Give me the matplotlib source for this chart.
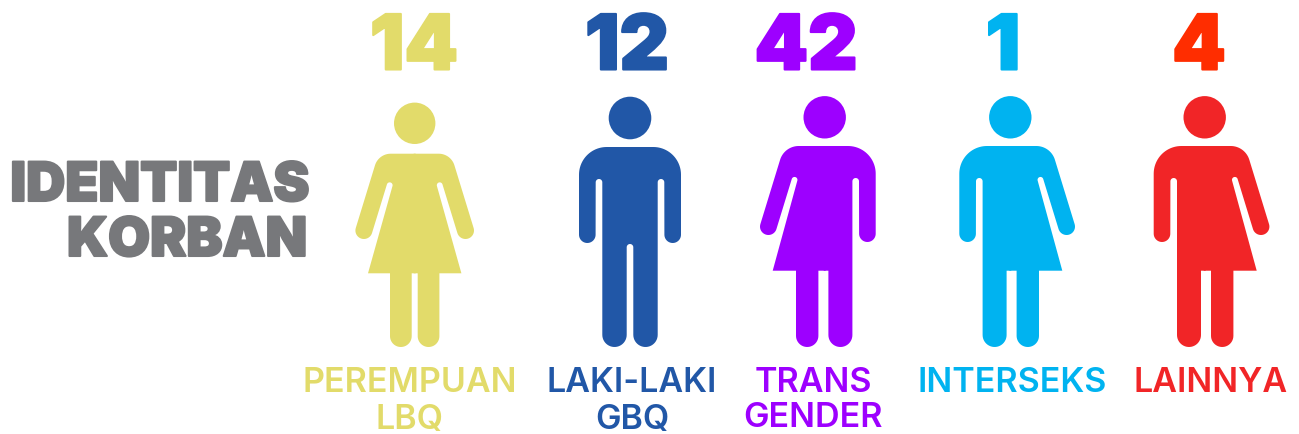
import numpy as np
import matplotlib
matplotlib.use("Agg")
from matplotlib import pyplot as plt
from matplotlib.patches import Polygon, Circle
import matplotlib.patheffects as pe

# data
labels = ["PEREMPUAN\nLBQ", "LAKI-LAKI\nGBQ", "TRANS\nGENDER", "INTERSEKS", "LAINNYA"]
values = [14, 12, 42, 1, 4]
value_colors = ["#E2DB6A", "#2157A7", "#9D00FF", "#00B3F0", "#FF2D00"]
icon_colors = ["#E2DB6A", "#2157A7", "#9D00FF", "#00B3F0", "#F12527"]
icon_types = ["female", "male", "trans", "intersex", "intersex"]
title_lines = ["IDENTITAS", "KORBAN"]

# layout, in pixels of the image
icon_x = [414.7, 630, 824.7, 1010.3, 1204.7]
value_x = [414, 627, 806, 1003, 1199]
label_x = [410, 632, 813, 1012, 1211]
label2_y = [429, 429, 427, 429, 429]
title_color = "#77787B"

ARM = np.array([0.293, 0.956])
NORM = np.array([0.956, -0.293])


def arc(cx, cy, r, a0, a1, n=24):
    t = np.radians(np.linspace(a0, a1, n))
    return np.column_stack([cx + r * np.cos(t), cy + r * np.sin(t)])


def leg(outer, gap, gap_top, bottom, r, round_gap):
    # outer edge of the leg down, round foot, back up the inner side
    w = (outer - gap) / 2
    pts = [arc(outer - w, bottom - w, w, 0, 180)]
    if round_gap:
        pts.append(arc(0, gap_top + gap, gap, 0, -90))
    else:
        pts.append(np.array([[gap, gap_top], [0, gap_top]]))
    # past the middle so the two halves overlap
    pts.append(np.array([[-1, gap_top]]))
    return np.vstack(pts)


def male_half(top, gap, gap_top, round_gap):
    pts = [np.array([[-1, top], [0, top]])]
    pts.append(arc(23.3, top + 27.7, 27.7, -90, 0))
    pts.append(arc(42.7, top + 87.7, 8.3, 0, 180))
    pts.append(arc(31, top + 35.3, 3.3, 0, -180))
    pts.append(leg(27.7, gap, gap_top, 347, 12, round_gap))
    return np.vstack(pts)


def female_half(top, flat, cap_x, cap_y, cap_r, slit_y, hem_x, hem_y, leg_x, gap):
    # shoulder arc ends on the line of the outer arm edge
    outer = np.array([cap_x, cap_y]) + cap_r * NORM
    slope = ARM[0] / ARM[1]
    R = (outer[0] - slope * (outer[1] - top) - flat) / (NORM[0] - slope * (1 + NORM[1]))
    ang = np.degrees(np.arctan2(NORM[1], NORM[0]))
    inner = np.array([cap_x, cap_y]) - cap_r * NORM
    slit_r = 2.9
    slit_outer_x = inner[0] - slope * (inner[1] - slit_y)
    pts = [np.array([[-1, top], [0, top]])]
    pts.append(arc(flat, top + R, R, -90, ang))
    pts.append(arc(cap_x, cap_y, cap_r, ang, ang + 180))
    pts.append(arc(slit_outer_x - slit_r * NORM[0], slit_y - slit_r * NORM[1], slit_r, ang, ang - 180))
    pts.append(np.array([[hem_x, hem_y], [leg_x, hem_y]]))
    pts.append(leg(leg_x, gap, hem_y, 347, 11, False))
    return np.vstack(pts)


def side_female(gap):
    return female_half(146, 26, 56.3, 226.6, 8.4, 179, 52, 270.7, 28.7, gap)


def draw_icon(ax, kind, x, color):
    if kind == "female":
        head = (123.3, 20.7)
        right = female_half(153.7, 24, 50.8, 230.5, 8.5, 184.4, 46.7, 273.3, 24.7, 3)
        left = right
    elif kind == "male":
        head = (118, 21.3)
        right = male_half(147, 3.3, 244, True)
        left = right
    elif kind == "trans":
        head = (117.3, 21.2)
        left = side_female(6.3)
        right = male_half(146, 3.7, 270.7, False)
    else:
        head = (117.3, 21.2)
        left = male_half(146, 3.7, 270.7, False)
        right = side_female(6.3)
    ax.add_patch(Circle((x, head[0]), head[1], fc=color, ec="none"))
    ax.add_patch(Polygon(np.column_stack([x + right[:, 0], right[:, 1]]), fc=color, ec="none"))
    ax.add_patch(Polygon(np.column_stack([x - left[:, 0], left[:, 1]]), fc=color, ec="none"))


fig = plt.figure(figsize=(12.99, 4.34), dpi=100)
ax = fig.add_axes([0, 0, 1, 1])
ax.set_xlim(0, 1299)
ax.set_ylim(434, 0)
ax.axis("off")

for i in range(len(values)):
    draw_icon(ax, icon_types[i], icon_x[i], icon_colors[i])
    ax.text(value_x[i], 69.5, str(values[i]), ha="center", va="baseline", fontsize=55,
            family="Inter", weight=900, color=value_colors[i],
            path_effects=[pe.withStroke(linewidth=1.5, foreground=value_colors[i])])
    lines = labels[i].split("\n")
    ax.text(label_x[i], 392.5, lines[0], ha="center", va="baseline", fontsize=24.5,
            family="Inter", weight=600, color=icon_colors[i])
    if len(lines) > 1:
        ax.text(label_x[i], label2_y[i], lines[1], ha="center", va="baseline", fontsize=24.5,
                family="Inter", weight=600, color=icon_colors[i])

ax.text(309, 201, title_lines[0], ha="right", va="baseline", fontsize=39, family="Inter",
        weight=900, color=title_color,
        path_effects=[pe.withStroke(linewidth=1.5, foreground=title_color)])
ax.text(307, 256, title_lines[1], ha="right", va="baseline", fontsize=39, family="Inter",
        weight=900, color=title_color,
        path_effects=[pe.withStroke(linewidth=1.5, foreground=title_color)])

fig.savefig("out.png", dpi=100)
